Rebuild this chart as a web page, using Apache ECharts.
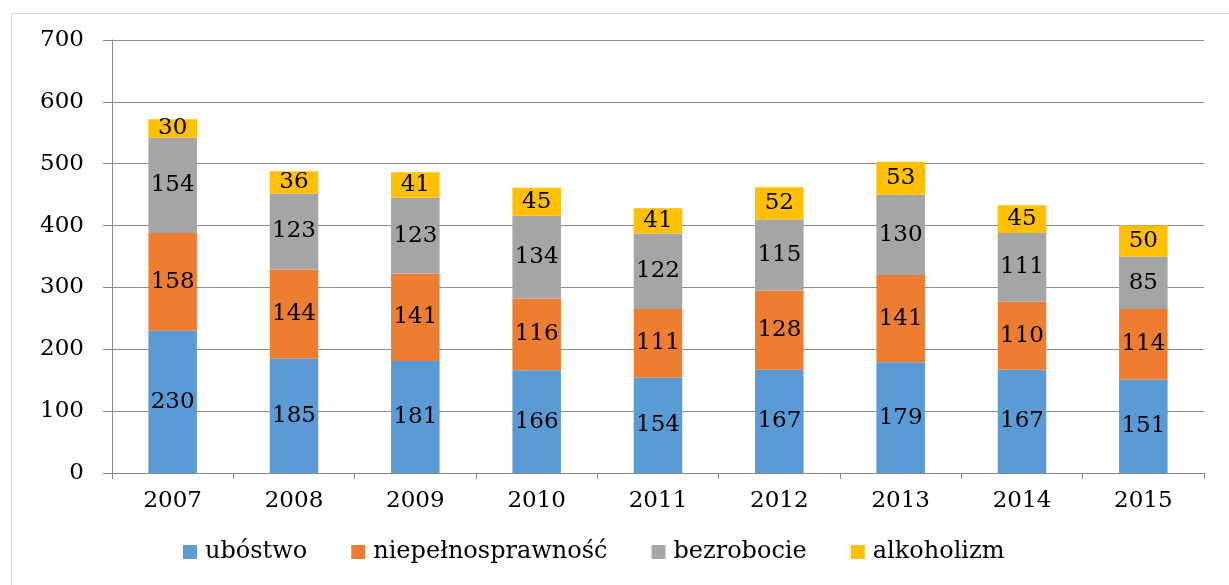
<!DOCTYPE html>
<html>
<head>
<meta charset="utf-8">
<script src="https://cdn.jsdelivr.net/npm/echarts@6/dist/echarts.min.js"></script>
<style>
  html, body { margin: 0; padding: 0; background: #fff; }
  #frame { position: absolute; left: 11px; top: 13px; width: 1218px; height: 572px;
    border-top: 1px solid #d9d9d9; border-left: 1px solid #d9d9d9; }
  #chart { position: absolute; left: 0; top: 0; width: 1229px; height: 585px; }
</style>
</head>
<body>
<div id="frame"></div>
<div id="chart"></div>
<script>
const years = ['2007', '2008', '2009', '2010', '2011', '2012', '2013', '2014', '2015']
const ubostwo = [230, 185, 181, 166, 154, 167, 179, 167, 151]
const niepelnosprawnosc = [158, 144, 141, 116, 111, 128, 141, 110, 114]
const bezrobocie = [154, 123, 123, 134, 122, 115, 130, 111, 85]
const alkoholizm = [30, 36, 41, 45, 41, 52, 53, 45, 50]

// the source text is a horizontally stretched Times; DejaVu Serif has about the same footprint
const serif = '"DejaVu Serif", "Liberation Serif", serif'

const chart = echarts.init(document.getElementById('chart'), null, { renderer: 'canvas' })

// one stacked bar series per cause
function stackSeries(name, data, color) {
  return {
    name,
    type: 'bar',
    stack: 'total',
    data,
    barWidth: '40%',
    itemStyle: { color },
    label: {
      show: true,
      position: 'inside',
      color: '#000',
      fontFamily: serif,
      fontSize: 23,
    },
  }
}

const option = {
  animation: false,
  textStyle: { fontFamily: serif },
  grid: { left: 112, right: 25, top: 40, bottom: 112 },
  legend: {
    bottom: 16,
    left: 178,
    itemWidth: 14,
    itemHeight: 14,
    itemGap: 44,
    icon: 'rect',
    textStyle: { fontFamily: serif, fontSize: 24, color: '#000', padding: [0, 0, 0, 3] },
  },
  xAxis: {
    type: 'category',
    data: years,
    axisLine: { lineStyle: { color: '#888' } },
    axisTick: { show: true, length: 6, lineStyle: { color: '#888' } },
    axisLabel: { color: '#000', fontFamily: serif, fontSize: 23, margin: 17 },
  },
  yAxis: {
    type: 'value',
    min: 0,
    max: 700,
    interval: 100,
    axisLine: { show: true, lineStyle: { color: '#888' } },
    axisTick: { show: true, length: 9, lineStyle: { color: '#888' } },
    axisLabel: { color: '#000', fontFamily: serif, fontSize: 23, margin: 28 },
    splitLine: { lineStyle: { color: '#8c8c8c' } },
  },
  series: [
    stackSeries('ubóstwo', ubostwo, '#5B9BD5'),
    stackSeries('niepełnosprawność', niepelnosprawnosc, '#ED7D31'),
    stackSeries('bezrobocie', bezrobocie, '#A5A5A5'),
    stackSeries('alkoholizm', alkoholizm, '#FFC000'),
  ],
}

chart.setOption(option)
</script>
</body>
</html>
